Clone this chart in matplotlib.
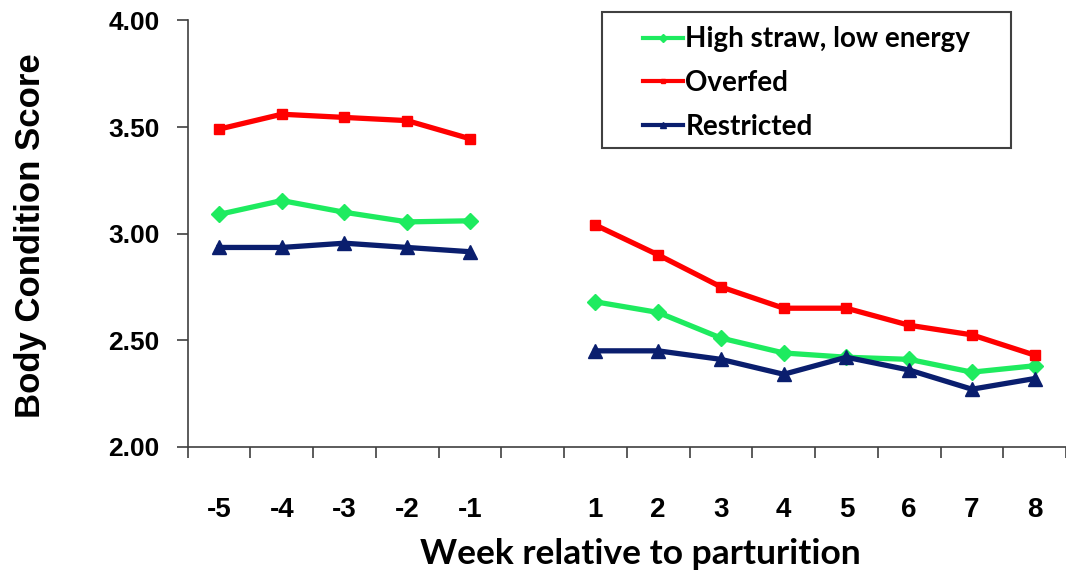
import numpy as np
import matplotlib.pyplot as plt
from matplotlib.patches import Rectangle
from matplotlib.ticker import FixedLocator, NullFormatter

# weeks around calving; the blank slot keeps the pre/post lines apart
weeks = ['-5', '-4', '-3', '-2', '-1', '', '1', '2', '3', '4', '5', '6', '7', '8']

high_straw = [3.09, 3.155, 3.10, 3.055, 3.06, np.nan,
              2.68, 2.63, 2.51, 2.44, 2.42, 2.41, 2.35, 2.38]
overfed = [3.49, 3.56, 3.545, 3.53, 3.445, np.nan,
           3.04, 2.90, 2.75, 2.65, 2.65, 2.57, 2.525, 2.43]
restricted = [2.935, 2.935, 2.955, 2.935, 2.915, np.nan,
              2.45, 2.45, 2.41, 2.34, 2.42, 2.36, 2.27, 2.32]

x = np.arange(len(weeks))

fig = plt.figure(figsize=(10.66, 5.84), dpi=100)
ax = fig.add_axes([0.176, 0.235, 0.824, 0.73])

ax.plot(x, high_straw, color='#1EEB5F', lw=3.8, marker='D', ms=8,
        label='High straw, low energy')
ax.plot(x, overfed, color='#FF0000', lw=3.8, marker='s', ms=7,
        label='Overfed')
ax.plot(x, restricted, color='#0A1E6E', lw=3.8, marker='^', ms=10,
        label='Restricted')

ax.set_ylim(2.0, 4.0)
ax.set_yticks([2.0, 2.5, 3.0, 3.5, 4.0])
ax.set_yticklabels(['2.00', '2.50', '3.00', '3.50', '4.00'],
                   fontsize=19, fontweight='bold', family='Liberation Sans')
ax.set_xlim(-0.5, len(weeks) - 0.5)
ax.set_xticks(x)
ax.set_xticklabels(weeks, fontsize=20, fontweight='bold',
                   family=['Liberation Sans Narrow', 'Liberation Sans'])
ax.tick_params(axis='x', which='major', length=0, pad=36)
ax.xaxis.set_minor_locator(FixedLocator(np.arange(-0.5, len(weeks), 1.0)))
ax.xaxis.set_minor_formatter(NullFormatter())
ax.tick_params(axis='x', which='minor', length=8, width=1.2, color='#404040')
ax.tick_params(axis='y', length=8, width=1.2, color='#404040', pad=12)

for side in ['top', 'right']:
    ax.spines[side].set_visible(False)
for side in ['left', 'bottom']:
    ax.spines[side].set_color('#404040')
    ax.spines[side].set_linewidth(1.2)

ax.set_ylabel('Body Condition Score', fontsize=25, fontweight='bold',
              family='Liberation Sans')
ax.yaxis.set_label_coords(-0.160, 0.495)
ax.set_xlabel('Week relative to parturition', fontsize=25.5, fontweight='bold',
              family='Lato')
ax.xaxis.set_label_coords(0.515, -0.215)

# legend entries without a frame; the box is drawn separately so it can be
# wider on the left than matplotlib's uniform border padding allows
leg = fig.legend(loc='upper left', bbox_to_anchor=(0.603, 0.955),
                 frameon=False, handlelength=1.45, handletextpad=0.08,
                 labelspacing=0.64, borderpad=0, borderaxespad=0,
                 markerscale=0.5,
                 prop={'family': 'Lato', 'weight': 'bold', 'size': 20})
for line in leg.get_lines():
    line.set_linewidth(3)
fig.add_artist(Rectangle((0.565, 0.747), 0.383, 0.232, transform=fig.transFigure,
                         fill=False, edgecolor='#404040', linewidth=1.5))

fig.savefig('out.png', dpi=100)
